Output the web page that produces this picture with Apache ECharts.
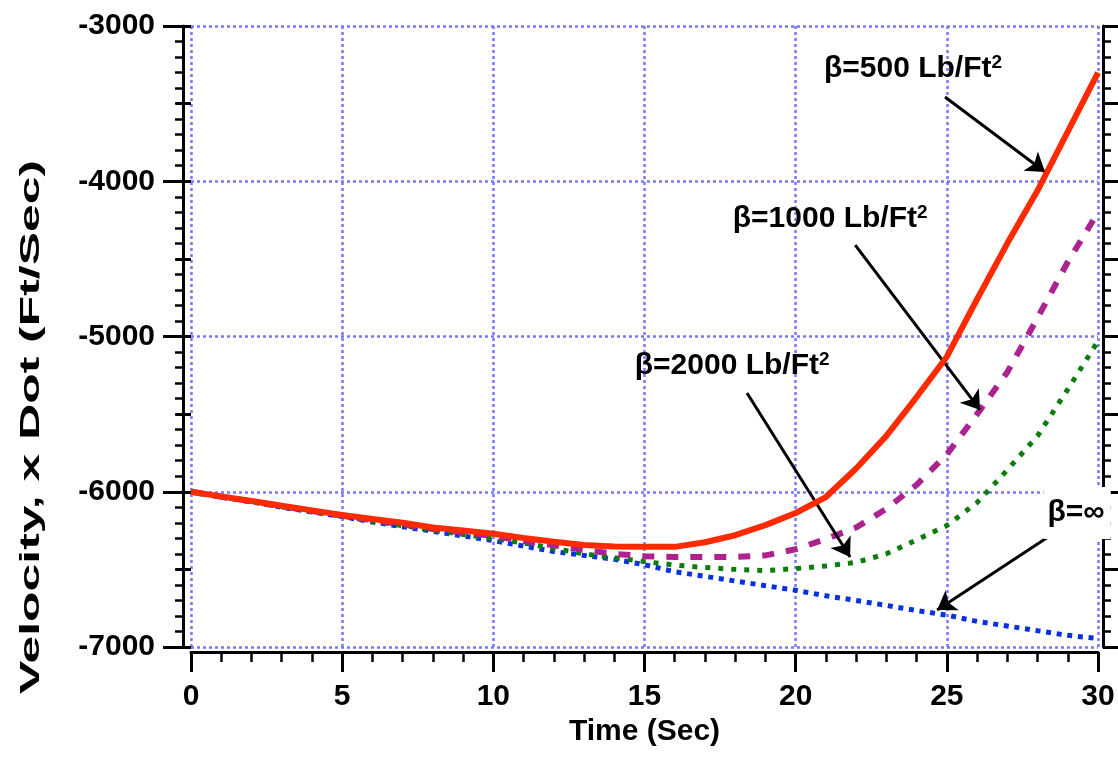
<!DOCTYPE html>
<html>
<head>
<meta charset="utf-8">
<script src="https://cdn.jsdelivr.net/npm/echarts@6/dist/echarts.min.js"></script>
<style>html,body{margin:0;padding:0;background:#fff;}#c{width:1118px;height:757px;}</style>
</head>
<body>
<div id="c"></div>
<script>
// ---- data ----
const times = [0,1,2,3,4,5,6,7,8,9,10,11,12,13,14,15,16,17,18,19,20,21,22,23,24,25,26,27,28,29,30];
const beta500  = [-6000,-6030,-6060,-6090,-6120,-6150,-6175,-6200,-6230,-6250,-6270,-6298,-6322,-6343,-6352,-6355,-6355,-6325,-6280,-6215,-6137,-6034,-5850,-5640,-5390,-5130,-4760,-4400,-4060,-3680,-3300];
const beta1000 = [-6000,-6032,-6062,-6093,-6124,-6155,-6183,-6210,-6240,-6262,-6285,-6318,-6345,-6375,-6400,-6415,-6420,-6420,-6420,-6410,-6370,-6305,-6230,-6110,-5955,-5760,-5500,-5230,-4880,-4520,-4200];
const beta2000 = [-6000,-6033,-6064,-6097,-6127,-6157,-6190,-6218,-6248,-6275,-6300,-6330,-6365,-6400,-6425,-6450,-6472,-6488,-6500,-6508,-6495,-6478,-6455,-6400,-6310,-6218,-6070,-5860,-5640,-5340,-5030];
const betaInf  = [-6000,-6035,-6065,-6100,-6130,-6160,-6195,-6225,-6255,-6285,-6315,-6350,-6385,-6410,-6435,-6470,-6515,-6545,-6575,-6605,-6635,-6670,-6700,-6732,-6765,-6795,-6835,-6865,-6895,-6925,-6945];
const seriesNames = ['β=∞', 'β=2000 Lb/Ft²', 'β=1000 Lb/Ft²', 'β=500 Lb/Ft²'];
const xTickLabels = [0,5,10,15,20,25,30];
const yTickLabels = [-7000,-6000,-5000,-4000,-3000];

// annotation texts (data coords) and arrows
const annotLabels = [
  {text:'{t|β=500 Lb/Ft}{s|2}', at:[23.88,-3277], bg:false},
  {text:'{t|β=1000 Lb/Ft}{s|2}', at:[21.14,-4243], bg:false},
  {text:'{t|β=2000 Lb/Ft}{s|2}', at:[17.9,-5190], bg:false},
  {text:'{t|β=∞}', at:[29.31,-6137], bg:true}
];
const annotArrows = [
  [[24.94,-3457],[28.25,-3940]],
  [[21.97,-4411],[26.1,-5473]],
  [[18.39,-5364],[21.8,-6420]],
  [[28.35,-6291],[24.68,-6762]]
];

const pairs = arr => times.map((t,i)=>[t,arr[i]]);
const FONT = 'Liberation Sans, Arial, Helvetica, sans-serif';
const gridColor = '#7878ff';

const chart = echarts.init(document.getElementById('c'), null, {renderer:'canvas'});
const option = {
  animation:false,
  backgroundColor:'#fff',
  grid:{left:191, right:20, top:26, bottom:110},
  xAxis:{
    type:'value', min:0, max:30, interval:5, offset:5,
    name:'Time (Sec)', nameLocation:'middle', nameGap:47,
    nameTextStyle:{fontFamily:FONT, fontWeight:'bold', fontSize:30, color:'#000'},
    axisLine:{show:true, onZero:false, lineStyle:{color:'#000', width:3}},
    axisTick:{show:true, length:20, lineStyle:{color:'#000', width:3}},
    minorTick:{show:true, splitNumber:5, length:10, lineStyle:{color:'#000', width:2.5}},
    axisLabel:{margin:30, fontFamily:FONT, fontWeight:'bold', fontSize:30, color:'#000',
      formatter:v=> xTickLabels.includes(v) ? String(v) : ''},
    splitLine:{show:true, lineStyle:{color:gridColor, width:2.5, type:[3,3]}}
  },
  yAxis:[
    {
      type:'value', min:-7000, max:-3000, interval:1000, position:'left', offset:8,
      axisLine:{show:true, onZero:false, lineStyle:{color:'#000', width:3}},
      axisTick:{show:true, length:20, lineStyle:{color:'#000', width:3}},
      minorTick:{show:true, splitNumber:10, length:8, lineStyle:{color:'#000', width:2.5}},
      axisLabel:{margin:28, fontFamily:FONT, fontWeight:'bold', fontSize:30, color:'#000',
        formatter:v=> yTickLabels.includes(v) ? String(v) : ''},
      splitLine:{show:true, lineStyle:{color:gridColor, width:2.5, type:[3,3]}}
    },
    {
      type:'value', min:-7000, max:-3000, interval:500, position:'left', offset:8,
      axisLine:{show:false}, axisLabel:{show:false}, splitLine:{show:false},
      axisTick:{show:true, length:15, lineStyle:{color:'#000', width:3}}
    },
    {
      type:'value', min:-7000, max:-3000, interval:500, position:'right', offset:5,
      axisLine:{show:true, onZero:false, lineStyle:{color:'#000', width:3}},
      axisLabel:{show:false}, splitLine:{show:false},
      axisTick:{show:true, length:15, lineStyle:{color:'#000', width:3}},
      minorTick:{show:true, splitNumber:5, length:8, lineStyle:{color:'#000', width:2.5}}
    }
  ],
  graphic:[{
    type:'text', x:31, y:427, rotation:Math.PI/2, scaleX:1.72, scaleY:0.95,
    style:{text:'Velocity, x Dot (Ft/Sec)', font:'bold 29px '+FONT, fill:'#000', textAlign:'center', textVerticalAlign:'middle'}
  }],
  series:[
    {name:seriesNames[0], type:'line', data:pairs(betaInf), showSymbol:false, symbol:'none', z:2,
      lineStyle:{color:'#0a32dc', width:5, type:[5,5.7]}},
    {name:seriesNames[1], type:'line', data:pairs(beta2000), showSymbol:false, symbol:'none', z:3,
      lineStyle:{color:'#0b7d0b', width:5, type:[5,8]}},
    {name:seriesNames[2], type:'line', data:pairs(beta1000), showSymbol:false, symbol:'none', z:4,
      lineStyle:{color:'#ac2390', width:6, type:[12,12]}},
    {name:seriesNames[3], type:'line', data:pairs(beta500), showSymbol:false, symbol:'none', z:5,
      lineStyle:{color:'#ff2a00', width:6}},
    {name:'annot', type:'line', data:[], z:10, silent:true,
      markLine:{silent:true, symbol:['none','arrow'], symbolSize:18, label:{show:false},
        lineStyle:{color:'#000', width:3, type:'solid'},
        data: annotArrows.map(a=>[{coord:a[0]},{coord:a[1]}])},
      markPoint:{silent:true, symbol:'rect', symbolSize:0,
        data: annotLabels.map(l=>({coord:l.at, value:0,
          label:{show:true, position:'inside', formatter:l.text, color:'#000',
            backgroundColor: l.bg ? '#fff' : 'transparent', padding: l.bg ? [10,6,10,4] : 0,
            rich:{t:{fontFamily:FONT, fontWeight:'bold', fontSize:30, color:'#000', lineHeight:32},
                  s:{fontFamily:FONT, fontWeight:'bold', fontSize:19, color:'#000', verticalAlign:'top', lineHeight:14}}}}))}
    }
  ]
};
chart.setOption(option);
</script>
</body>
</html>
